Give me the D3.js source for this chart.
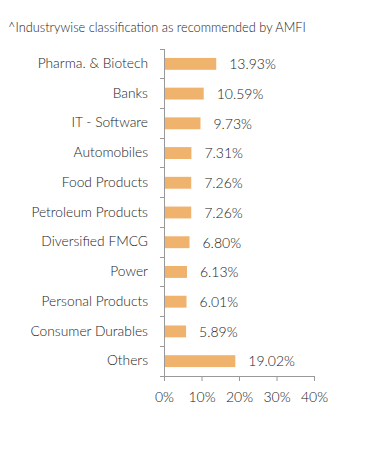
<!DOCTYPE html>
<html>
<head>
<meta charset="utf-8">
<script src="https://cdn.jsdelivr.net/npm/d3@7"></script>
<style>
  body { margin: 0; background: #fff; }
  text { font-family: Lato, "Open Sans", sans-serif; font-weight: 300; }
</style>
</head>
<body>
<div id="chart"></div>
<script>
// datos de la cartera por sector
const categorias = ['Pharma. & Biotech', 'Banks', 'IT - Software', 'Automobiles', 'Food Products',
  'Petroleum Products', 'Diversified FMCG', 'Power', 'Personal Products', 'Consumer Durables', 'Others'];
const valores = [13.93, 10.59, 9.73, 7.31, 7.26, 7.26, 6.80, 6.13, 6.01, 5.89, 19.02];
const ticksX = [0, 10, 20, 30, 40];
const titulo = '^Industrywise classification as recommended by AMFI';

const width = 391, height = 450;
const margin = { top: 49, right: 77, bottom: 74, left: 164 };

const svg = d3.select('#chart')
  .append('svg')
  .attr('width', width)
  .attr('height', height);

svg.append('text')
  .attr('x', 8)
  .attr('y', 32)
  .attr('fill', '#222')
  .style('font-size', '12.8px')
  .text(titulo);

const g = svg.append('g')
  .attr('transform', `translate(${margin.left},${margin.top})`);

const h = height - margin.top - margin.bottom;

const x = d3.scaleLinear().domain([0, 40]).range([0, 150]);
const y = d3.scaleBand().domain(categorias).range([0, h]).paddingInner(0.6).paddingOuter(0.3);
const yTicks = d3.scaleBand().domain(categorias).range([0, h]);

// barras
g.selectAll('rect.bar')
  .data(valores)
  .enter().append('rect')
  .attr('class', 'bar')
  .attr('x', 0)
  .attr('y', (d, i) => y(categorias[i]))
  .attr('width', d => x(d))
  .attr('height', y.bandwidth())
  .attr('fill', '#F0B36E');

// etiquetas de valor
g.selectAll('text.valor')
  .data(valores)
  .enter().append('text')
  .attr('class', 'valor')
  .attr('x', d => x(d) + 13)
  .attr('y', (d, i) => y(categorias[i]) + y.bandwidth() / 2)
  .attr('dy', '0.38em')
  .attr('fill', '#222')
  .style('font-size', '14px')
  .text(d => d.toFixed(2) + '%');

// etiquetas de categoria
g.selectAll('text.cat')
  .data(categorias)
  .enter().append('text')
  .attr('class', 'cat')
  .attr('x', -16)
  .attr('y', d => y(d) + y.bandwidth() / 2)
  .attr('dy', '0.3em')
  .attr('text-anchor', 'end')
  .attr('fill', '#222')
  .style('font-size', '13.8px')
  .text(d => d);

// eje Y: linea con marcas entre categorias
const bordes = categorias.map(c => yTicks(c)).concat([h]);
g.append('line')
  .attr('x1', 0).attr('x2', 0)
  .attr('y1', 0).attr('y2', h)
  .attr('stroke', '#999')
  .attr('shape-rendering', 'crispEdges');
g.selectAll('line.ytick')
  .data(bordes)
  .enter().append('line')
  .attr('class', 'ytick')
  .attr('x1', -4).attr('x2', 0)
  .attr('y1', d => d).attr('y2', d => d)
  .attr('stroke', '#999')
  .attr('shape-rendering', 'crispEdges');

// eje X
const xAxis = d3.axisBottom(x)
  .tickValues(ticksX)
  .tickSize(5)
  .tickPadding(11)
  .tickFormat(d => d + '%');

const ax = g.append('g')
  .attr('transform', `translate(0,${h})`)
  .call(xAxis);
ax.select('.domain').attr('stroke', '#999');
ax.selectAll('.tick line').attr('stroke', '#999');
ax.selectAll('.tick text')
  .attr('fill', '#222')
  .style('font-size', '14px')
  .style('font-family', 'Lato, sans-serif')
  .style('font-weight', '300');
</script>
</body>
</html>
